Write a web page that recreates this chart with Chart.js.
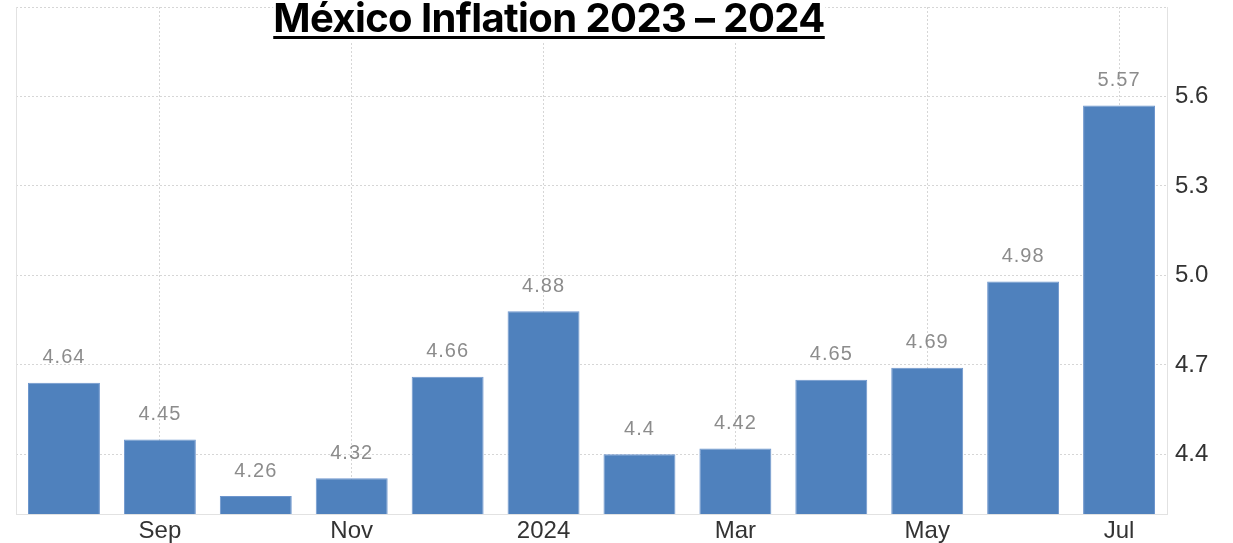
<!DOCTYPE html>
<html>
<head>
<meta charset="utf-8">
<script src="https://cdn.jsdelivr.net/npm/chart.js@4.4.1/dist/chart.umd.min.js"></script>
<style>
  html, body { margin: 0; padding: 0; background: #fff; }
  #wrap { position: relative; width: 1233px; height: 543px; overflow: hidden; }
  #title {
    position: absolute; left: 549px; top: -6px; transform: translateX(-50%);
    margin: 0; font-family: Inter, "Open Sans", sans-serif; font-weight: 700; font-size: 40px;
    letter-spacing: -0.6px; color: #000; background: #fff; white-space: nowrap; line-height: 48px;
    text-decoration: underline; text-decoration-thickness: 3px; text-underline-offset: 4px;
  }
</style>
</head>
<body>
<div id="wrap">
  <canvas id="myChart" width="1233" height="543"></canvas>
  <h1 id="title">México Inflation 2023 – 2024</h1>
</div>
<script>
const months = ['Aug', 'Sep', 'Oct', 'Nov', 'Dec', '2024', 'Feb', 'Mar', 'Apr', 'May', 'Jun', 'Jul'];
const shownMonths = ['Sep', 'Nov', '2024', 'Mar', 'May', 'Jul'];
const inflation = [4.64, 4.45, 4.26, 4.32, 4.66, 4.88, 4.4, 4.42, 4.65, 4.69, 4.98, 5.57];
const yTicks = [4.4, 4.7, 5.0, 5.3, 5.6, 5.9];
const yShown = [4.4, 4.7, 5.0, 5.3, 5.6];

// values above each bar
const barValues = {
  id: 'barValues',
  afterDatasetsDraw(chart) {
    const ctx = chart.ctx;
    const meta = chart.getDatasetMeta(0);
    ctx.save();
    ctx.font = '20px "Liberation Sans", Arial, sans-serif';
    ctx.fillStyle = '#8c8c8c';
    ctx.letterSpacing = '1px';
    ctx.textAlign = 'center';
    ctx.textBaseline = 'middle';
    meta.data.forEach(function (bar, i) {
      ctx.fillText(String(inflation[i]), bar.x, bar.y - 25);
    });
    ctx.restore();
  }
};

// left edge of the plot
const leftEdge = {
  id: 'leftEdge',
  beforeDatasetsDraw(chart) {
    const a = chart.chartArea;
    const ctx = chart.ctx;
    ctx.save();
    ctx.strokeStyle = '#e2e2e2';
    ctx.lineWidth = 1;
    ctx.beginPath();
    ctx.moveTo(a.left + 0.5, a.top);
    ctx.lineTo(a.left + 0.5, a.bottom);
    ctx.stroke();
    ctx.restore();
  }
};

const ctx = document.getElementById('myChart').getContext('2d');
const myChart = new Chart(ctx, {
  type: 'bar',
  data: {
    labels: months,
    datasets: [{
      data: inflation,
      backgroundColor: 'rgb(79, 129, 189)',
      borderColor: 'rgb(110, 150, 205)',
      borderWidth: 1,
      categoryPercentage: 0.75,
      barPercentage: 1
    }]
  },
  options: {
    responsive: false,
    animation: false,
    layout: { padding: { left: 16, top: 7, right: 0, bottom: 0 } },
    plugins: { legend: { display: false }, tooltip: { enabled: false }, title: { display: false } },
    scales: {
      x: {
        grid: {
          offset: false,
          drawTicks: false,
          color: function (c) { return shownMonths.includes(months[c.index]) ? '#d6d6d6' : 'rgba(0,0,0,0)'; }
        },
        border: { display: true, color: '#e2e2e2', dash: [2, 2] },
        ticks: {
          autoSkip: false,
          maxRotation: 0,
          padding: 3,
          color: '#333',
          font: { family: '"Liberation Sans", Arial, sans-serif', size: 24 },
          callback: function (v, i) { return shownMonths.includes(months[i]) ? months[i] : ''; }
        },
        afterFit: function (s) { s.height = 29; s.paddingLeft = 0; s.paddingRight = 0; }
      },
      y: {
        position: 'right',
        min: 4.2,
        max: 5.9,
        grid: { drawTicks: false, color: '#d6d6d6' },
        border: { display: true, color: '#e2e2e2', dash: [2, 2] },
        afterBuildTicks: function (s) { s.ticks = yTicks.map(function (v) { return { value: v }; }); },
        ticks: {
          padding: 8,
          color: '#333',
          font: { family: '"Liberation Sans", Arial, sans-serif', size: 24 },
          callback: function (v) { return yShown.includes(v) ? v.toFixed(1) : ''; }
        },
        afterFit: function (s) { s.width = 66; s.paddingTop = 0; s.paddingBottom = 0; }
      }
    }
  },
  plugins: [barValues, leftEdge]
});
</script>
</body>
</html>
